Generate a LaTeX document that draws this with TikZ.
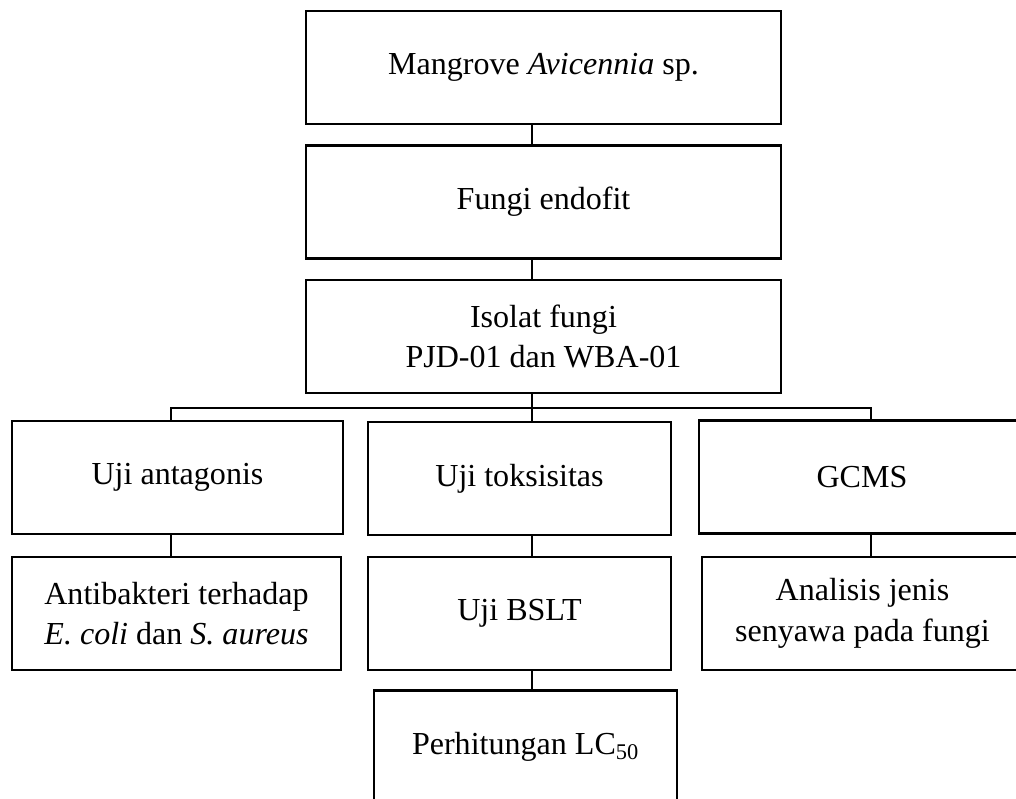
\documentclass[tikz,border=0pt]{standalone}
\usepackage{fontspec}
\setmainfont{Liberation Serif}
\begin{document}
\begin{tikzpicture}[
		box/.style={draw=black, line width=1.9pt, align=center, inner sep=0pt, minimum height=2.825cm,
			font=\fontsize{22.8}{29}\selectfont},
		link/.style={draw=black, line width=1.4pt}]
		\useasboundingbox (0, 0) rectangle (25.4, -19.975);
		\clip (0, 0) rectangle (25.4, -19.975);
		\node [box, minimum width=11.875cm] at (13.5875, -1.6875) (mangrove) {Mangrove \textit{Avicennia} sp.};
		\node [box, minimum width=11.875cm] at (13.5875, -5.05) (endofit) {Fungi endofit};
		\node [box, minimum width=11.875cm] at (13.5875, -8.4125) (isolat) {Isolat fungi\\PJD-01 dan WBA-01};
		\node [box, minimum width=8.275cm] at (4.4375, -11.9375) (antagonis) {Uji antagonis};
		\node [box, minimum width=7.575cm] at (12.9875, -11.9625) (toksisitas) {Uji toksisitas};
		\node [box, minimum width=8.15cm] at (21.55, -11.925) (gcms) {GCMS};
		\node [box, minimum width=8.225cm] at (4.4125, -15.3375) (antibakteri) {Antibakteri terhadap\\\textit{E. coli} dan \textit{S. aureus}};
		\node [box, minimum width=7.575cm] at (12.9875, -15.3375) (bslt) {Uji BSLT};
		\node [box, minimum width=8.025cm] at (21.5625, -15.3375) (analisis) {Analisis jenis\\senyawa pada fungi};
		\node [box, minimum width=7.575cm] at (13.1375, -18.675) (lc) {Perhitungan LC\textsubscript{50}};
		\coordinate (colA) at (4.275, 0);
		\coordinate (spine) at (13.29, 0);
		\coordinate (colC) at (21.775, 0);
		\coordinate (bus) at (13.29, -10.2);
		\draw [link] (mangrove.south -| spine) -- (endofit.north -| spine);
		\draw [link] (endofit.south -| spine) -- (isolat.north -| spine);
		\draw [link] (isolat.south -| spine) -- (toksisitas.north -| spine);
		\draw [link] (antagonis.north -| colA) |- (bus) -| (gcms.north -| colC);
		\draw [link] (antagonis.south -| colA) -- (antibakteri.north -| colA);
		\draw [link] (toksisitas.south -| spine) -- (bslt.north -| spine);
		\draw [link] (gcms.south -| colC) -- (analisis.north -| colC);
		\draw [link] (bslt.south -| spine) -- (lc.north -| spine);
	\end{tikzpicture}
\end{document}
